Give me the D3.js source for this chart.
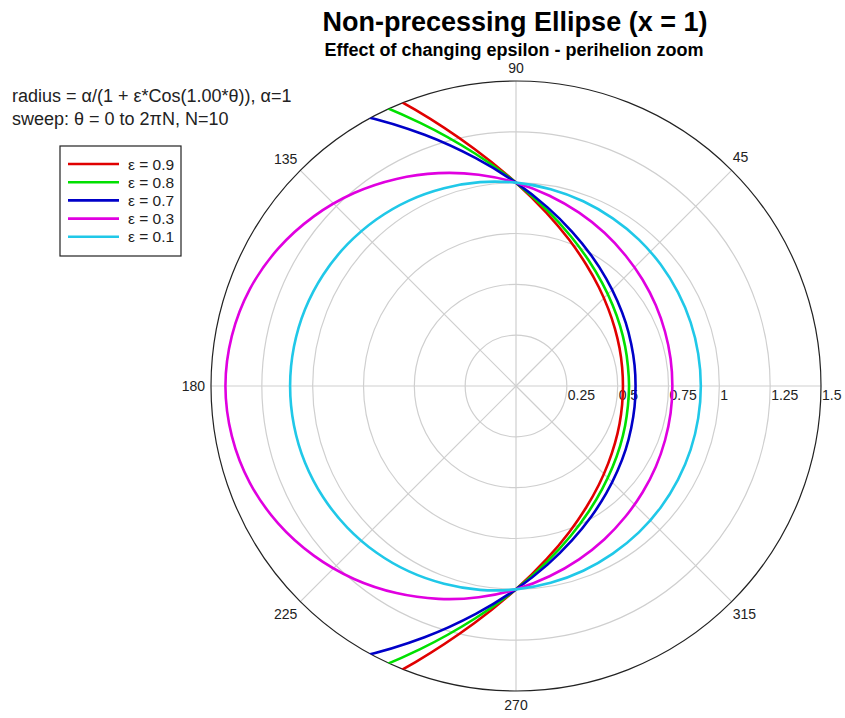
<!DOCTYPE html>
<html>
<head>
<meta charset="utf-8">
<script src="https://cdn.jsdelivr.net/npm/d3@7"></script>
<style>
  body { margin: 0; background: #fff; }
  svg { display: block; font-family: Arial, "Liberation Sans", sans-serif; }
</style>
</head>
<body>
<div id="chart"></div>
<script>
// angles in degrees, shared by all series
var angles = [0, 10, 20, 30, 40, 50, 60, 70, 80, 90, 100, 110, 120, 130, 140, 150, 160, 170,
              180, 190, 200, 210, 220, 230, 240, 250, 260, 270, 280, 290, 300, 310, 320, 330, 340, 350];

var eps = ["0.9", "0.8", "0.7", "0.3", "0.1"];
var colors = ["#e00000", "#00e000", "#0000c8", "#e000e0", "#20c8e8"];

// radius read at each angle
var r09 = [0.526, 0.530, 0.542, 0.562, 0.592, 0.634, 0.690, 0.765, 0.865, 1.000, 1.185, 1.445, 1.818, 2.373, 3.220, 4.533, 6.482, 8.797,
           10.00, 8.797, 6.482, 4.533, 3.220, 2.373, 1.818, 1.445, 1.185, 1.000, 0.865, 0.765, 0.690, 0.634, 0.592, 0.562, 0.542, 0.530];
var r08 = [0.556, 0.559, 0.571, 0.591, 0.620, 0.660, 0.714, 0.785, 0.878, 1.000, 1.161, 1.377, 1.667, 2.059, 2.583, 3.255, 4.028, 4.713,
           5.000, 4.713, 4.028, 3.255, 2.583, 2.059, 1.667, 1.377, 1.161, 1.000, 0.878, 0.785, 0.714, 0.660, 0.620, 0.591, 0.571, 0.559];
var r07 = [0.588, 0.592, 0.603, 0.623, 0.651, 0.690, 0.741, 0.807, 0.892, 1.000, 1.138, 1.315, 1.538, 1.818, 2.156, 2.539, 2.922, 3.219,
           3.333, 3.219, 2.922, 2.539, 2.156, 1.818, 1.538, 1.315, 1.138, 1.000, 0.892, 0.807, 0.741, 0.690, 0.651, 0.623, 0.603, 0.592];
var r03 = [0.769, 0.772, 0.780, 0.794, 0.813, 0.838, 0.870, 0.907, 0.950, 1.000, 1.055, 1.114, 1.176, 1.239, 1.298, 1.351, 1.393, 1.419,
           1.429, 1.419, 1.393, 1.351, 1.298, 1.239, 1.176, 1.114, 1.055, 1.000, 0.950, 0.907, 0.870, 0.838, 0.813, 0.794, 0.780, 0.772];
var r01 = [0.909, 0.910, 0.914, 0.920, 0.929, 0.940, 0.952, 0.967, 0.983, 1.000, 1.018, 1.035, 1.053, 1.069, 1.083, 1.095, 1.104, 1.109,
           1.111, 1.109, 1.104, 1.095, 1.083, 1.069, 1.053, 1.035, 1.018, 1.000, 0.983, 0.967, 0.952, 0.940, 0.929, 0.920, 0.914, 0.910];
var radii = [r09, r08, r07, r03, r01];

var rTicks = [0.25, 0.5, 0.75, 1, 1.25, 1.5];
var rTickLabels = ["0.25", "0.5", "0.75", "1", "1.25", "1.5"];
var spokes = [0, 45, 90, 135, 180, 225, 270, 315];
var angleLabels = ["", "45", "90", "135", "180", "225", "270", "315"];

var width = 845, height = 718;
var cx = 516, cy = 386, R = 305;

var svg = d3.select("#chart").append("svg")
    .attr("width", width)
    .attr("height", height);

var r = d3.scaleLinear().domain([0, 1.5]).range([0, R]);

// title
svg.append("text")
    .attr("x", 515).attr("y", 31)
    .attr("text-anchor", "middle")
    .style("font-size", "27px").style("font-weight", "bold")
    .text("Non-precessing Ellipse (x = 1)");
svg.append("text")
    .attr("x", 514).attr("y", 56)
    .attr("text-anchor", "middle")
    .style("font-size", "18px").style("font-weight", "bold")
    .text("Effect of changing epsilon - perihelion zoom");

// formula text
svg.append("text").attr("x", 12).attr("y", 102)
    .style("font-size", "18px").style("fill", "#222")
    .text("radius = \u03b1/(1 + \u03b5*Cos(1.00*\u03b8)), \u03b1=1");
svg.append("text").attr("x", 12).attr("y", 125)
    .style("font-size", "18px").style("fill", "#222")
    .text("sweep: \u03b8 = 0 to 2\u03c0N, N=10");

var g = svg.append("g").attr("transform", "translate(" + cx + "," + cy + ")");

// grid circles
g.selectAll(".ring")
    .data(rTicks.slice(0, -1))
    .enter().append("circle")
    .attr("r", function(d) { return r(d); })
    .attr("fill", "none")
    .attr("stroke", "#cfcfcf")
    .attr("stroke-width", 1.2);

// spokes
g.selectAll(".spoke")
    .data(spokes)
    .enter().append("line")
    .attr("x1", 0).attr("y1", 0)
    .attr("x2", function(d) { return r(1.5) * Math.cos(d * Math.PI / 180); })
    .attr("y2", function(d) { return -r(1.5) * Math.sin(d * Math.PI / 180); })
    .attr("stroke", "#cfcfcf")
    .attr("stroke-width", 1.2);

// outer circle
g.append("circle")
    .attr("r", r(1.5))
    .attr("fill", "none")
    .attr("stroke", "#222")
    .attr("stroke-width", 1.2);

// radial tick labels
g.selectAll(".rlab")
    .data(rTicks)
    .enter().append("text")
    .attr("x", function(d) { return r(d) + 1; })
    .attr("y", 14)
    .style("font-size", "14px").style("fill", "#222")
    .text(function(d, i) { return rTickLabels[i]; });

// angle labels
var labPos = {
  45:  { dx: 1,  dy: -8, anchor: "start" },
  90:  { dx: 0,  dy: -8, anchor: "middle" },
  135: { dx: -3, dy: -6, anchor: "end" },
  180: { dx: -6, dy: 5,  anchor: "end" },
  225: { dx: -3, dy: 17, anchor: "end" },
  270: { dx: 0,  dy: 19, anchor: "middle" },
  315: { dx: 1,  dy: 17, anchor: "start" }
};
spokes.forEach(function(a, i) {
  if (!angleLabels[i]) return;
  var p = labPos[a];
  var x = r(1.5) * Math.cos(a * Math.PI / 180);
  var y = -r(1.5) * Math.sin(a * Math.PI / 180);
  g.append("text")
    .attr("x", x + p.dx).attr("y", y + p.dy)
    .attr("text-anchor", p.anchor)
    .style("font-size", "14px").style("fill", "#222")
    .text(angleLabels[i]);
});

// curves, clipped to outer circle
svg.append("clipPath").attr("id", "clip")
  .append("circle").attr("r", r(1.5));

var line = d3.lineRadial()
    .angle(function(d) { return Math.PI / 2 - d[0] * Math.PI / 180; })
    .radius(function(d) { return r(d[1]); })
    .curve(d3.curveCatmullRomClosed.alpha(0.5));

var curves = g.append("g").attr("clip-path", "url(#clip)");
radii.forEach(function(vals, i) {
  curves.append("path")
    .datum(angles.map(function(a, j) { return [a, vals[j]]; }))
    .attr("d", line)
    .attr("fill", "none")
    .attr("stroke", colors[i])
    .attr("stroke-width", 2.6);
});

// legend
var leg = svg.append("g").attr("transform", "translate(60,146)");
leg.append("rect")
    .attr("width", 121).attr("height", 110)
    .attr("fill", "#fff").attr("stroke", "#222").attr("stroke-width", 1.2);
eps.forEach(function(e, i) {
  var y = 18 + i * 18.2;
  leg.append("line")
    .attr("x1", 8).attr("x2", 59).attr("y1", y).attr("y2", y)
    .attr("stroke", colors[i]).attr("stroke-width", 2.6);
  leg.append("text")
    .attr("x", 68).attr("y", y + 5.5)
    .style("font-size", "15.5px").style("fill", "#222")
    .text("\u03b5 = " + e);
});
</script>
</body>
</html>
